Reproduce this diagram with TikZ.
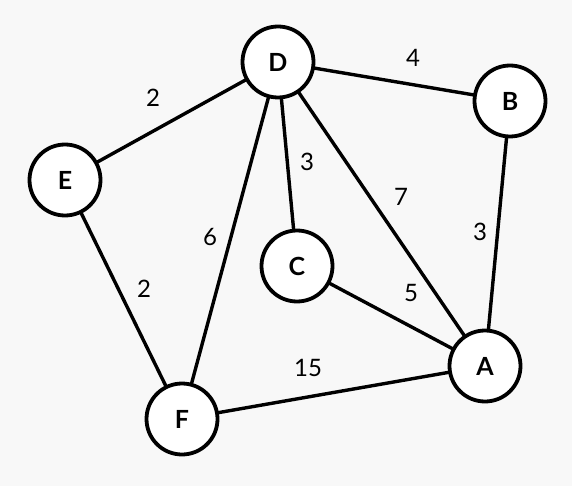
\documentclass[tikz,border=0pt]{standalone}
\usepackage{fontspec}
\setmainfont{Lato}
\begin{document}
\begin{tikzpicture}[x=1pt,y=-1pt,
  vtx/.style={circle,draw=black,fill=white,line width=3.8pt,minimum size=71pt,inner sep=0pt,font=\fontsize{25}{28}\selectfont\bfseries},
  edge/.style={line width=3.4pt,black},
  wt/.style={font=\fontsize{24}{28}\selectfont,inner sep=0pt}]
\fill[fill={rgb,255:red,248;green,248;blue,248}] (0,0) rectangle (572,486);
\useasboundingbox (0,0) rectangle (572,486);
\coordinate (cD) at (278,62);
\coordinate (cB) at (510,101);
\coordinate (cE) at (65,180);
\coordinate (cC) at (297,266);
\coordinate (cA) at (485,366);
\coordinate (cF) at (182,419);
\draw[edge] (cD) -- (cB);
\draw[edge] (cD) -- (cE);
\draw[edge] (cD) -- (cC);
\draw[edge] (cD) -- (cA);
\draw[edge] (cD) -- (cF);
\draw[edge] (cE) -- (cF);
\draw[edge] (cC) -- (cA);
\draw[edge] (cB) -- (cA);
\draw[edge] (cF) -- (cA);
\node[vtx] (D) at (cD) {D};
\node[vtx] (B) at (cB) {B};
\node[vtx] (E) at (cE) {E};
\node[vtx] (C) at (cC) {C};
\node[vtx] (A) at (cA) {A};
\node[vtx] (F) at (cF) {F};
\node[wt] (w1) at (413,58) {4};
\node[wt] (w2) at (153,98) {2};
\node[wt] (w3) at (307,162) {3};
\node[wt] (w4) at (401,197) {7};
\node[wt] (w5) at (210,237) {6};
\node[wt] (w6) at (480,232) {3};
\node[wt] (w7) at (144,289) {2};
\node[wt] (w8) at (411,293) {5};
\node[wt] (w9) at (308,368) {15};
\end{tikzpicture}
\end{document}
